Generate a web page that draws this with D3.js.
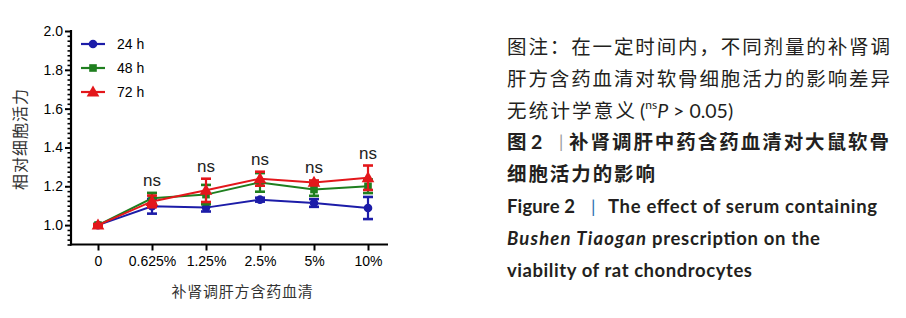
<!DOCTYPE html>
<html><head><meta charset="utf-8">
<script src="https://cdn.jsdelivr.net/npm/d3@7"></script>
<style>html,body{margin:0;padding:0;background:#fff;}svg{display:block;}</style>
</head><body>
<svg id="c" width="906" height="318"></svg>
<script>
const categories = ["0","0.625%","1.25%","2.5%","5%","10%"];
const seriesNames = ["24 h","48 h","72 h"];
const mean24 = [1.00,1.097,1.090,1.131,1.114,1.088];
const sd24   = [0.005,0.038,0.020,0.010,0.020,0.057];
const mean48 = [1.00,1.138,1.157,1.220,1.183,1.200];
const sd48   = [0.005,0.028,0.050,0.048,0.032,0.035];
const mean72 = [1.00,1.122,1.179,1.239,1.220,1.244];
const sd72   = [0.005,0.030,0.060,0.036,0.010,0.063];
const nsLabels = ["","ns","ns","ns","ns","ns"];
const yTicks = [1.0,1.2,1.4,1.6,1.8,2.0];

const colors = ["#1c1ca8","#1f7f1f","#e3171b"];
const shapes = [d3.symbolCircle,d3.symbolSquare,d3.symbolTriangle];
const series = [
  {name:seriesNames[0],mean:mean24,sd:sd24},
  {name:seriesNames[1],mean:mean48,sd:sd48},
  {name:seriesNames[2],mean:mean72,sd:sd72}
];

const svg = d3.select("#c");
const x = d3.scalePoint().domain(categories).range([98,368]);
const y = d3.scaleLinear().domain([0.9,2.0]).range([244.5,31]);
const F = "'Liberation Sans', Arial, sans-serif";

// axes
const yAxis = svg.append("g").attr("transform","translate(71,0)")
  .call(d3.axisLeft(y).tickValues(yTicks).tickFormat(d3.format(".1f")).tickSize(6).tickSizeOuter(0));
yAxis.select(".domain").remove();
yAxis.selectAll("text").attr("font-family",F).attr("font-size",14).attr("fill","#000").attr("x",-8);
yAxis.selectAll("line").attr("stroke","#000").attr("stroke-width",2);
const minor = d3.range(0.9,2.0001,0.025).filter(v=>Math.abs(Math.round(v*5)-v*5)>1e-6);
const yMinor = svg.append("g").attr("transform","translate(71,0)")
  .call(d3.axisLeft(y).tickValues(minor).tickFormat("").tickSize(3.5).tickSizeOuter(0));
yMinor.select(".domain").remove();
yMinor.selectAll("line").attr("stroke","#000").attr("stroke-width",1.6);
svg.append("line").attr("x1",71).attr("x2",71).attr("y1",y(2.0)-1).attr("y2",245.5).attr("stroke","#000").attr("stroke-width",2.2);

const xAxis = svg.append("g").attr("transform","translate(0,244.5)")
  .call(d3.axisBottom(x).tickSize(6).tickSizeOuter(0));
xAxis.select(".domain").remove();
xAxis.selectAll("line").attr("stroke","#000").attr("stroke-width",2);
xAxis.selectAll("text").attr("font-family",F).attr("font-size",14).attr("fill","#000").attr("y",12);
svg.append("line").attr("x1",70).attr("x2",388).attr("y1",244.5).attr("y2",244.5).attr("stroke","#000").attr("stroke-width",2.2);

// titles
svg.append("text").attr("transform","translate(19,139) rotate(-90)").attr("text-anchor","middle")
  .attr("dominant-baseline","central").attr("font-family","'Noto Sans CJK SC', sans-serif").attr("font-size",16)
  .attr("letter-spacing",1).attr("fill","#333").text("相对细胞活力");
svg.append("text").attr("x",242.5).attr("y",290).attr("text-anchor","middle")
  .attr("dominant-baseline","central").attr("font-family","'Noto Sans CJK SC', sans-serif").attr("font-size",15)
  .attr("letter-spacing",0.8).attr("fill","#333").text("补肾调肝方含药血清");

// series
const line = d3.line().x((d,i)=>x(categories[i])).y(d=>y(d));
series.forEach((s,k)=>{
  const g = svg.append("g");
  g.append("path").datum(s.mean).attr("d",line).attr("fill","none").attr("stroke",colors[k]).attr("stroke-width",2);
  s.mean.forEach((m,i)=>{
    const cx = x(categories[i]);
    const y1 = y(m+s.sd[i]), y2 = y(m-s.sd[i]);
    g.append("line").attr("x1",cx).attr("x2",cx).attr("y1",y1).attr("y2",y2).attr("stroke",colors[k]).attr("stroke-width",2.2);
    [y1,y2].forEach(yy=>g.append("line").attr("x1",cx-5).attr("x2",cx+5).attr("y1",yy).attr("y2",yy).attr("stroke",colors[k]).attr("stroke-width",2.6));
    g.append("path").attr("d",d3.symbol().type(shapes[k]).size(k===2?70:58)())
      .attr("transform",`translate(${cx},${y(m)+(k===2?0.8:0)})`).attr("fill",colors[k]);
  });
});

// ns labels
categories.forEach((c,i)=>{
  if(!nsLabels[i]) return;
  const top = d3.max(series,s=>s.mean[i]+s.sd[i]);
  svg.append("text").attr("x",x(c)).attr("y",y(top)-7).attr("text-anchor","middle")
    .attr("font-family",F).attr("font-size",17).attr("fill","#222").text(nsLabels[i]);
});

// legend
series.forEach((s,k)=>{
  const ly = 44 + k*24;
  svg.append("line").attr("x1",81).attr("x2",105).attr("y1",ly).attr("y2",ly).attr("stroke",colors[k]).attr("stroke-width",2.2);
  svg.append("path").attr("d",d3.symbol().type(shapes[k]).size(k===2?70:58)()).attr("transform",`translate(93,${ly+(k===2?0.8:0)})`).attr("fill",colors[k]);
  svg.append("text").attr("x",117).attr("y",ly).attr("dominant-baseline","central")
    .attr("font-family",F).attr("font-size",14).attr("fill","#000").text(s.name);
});

// caption
const CJK = "Lato, 'Noto Sans CJK SC', sans-serif";
function t(xp,yp,str,len,opt={}){
  const e = svg.append("text").attr("x",xp).attr("y",yp).attr("dominant-baseline","central")
    .attr("font-family",opt.family||CJK).attr("font-size",opt.size||19.5)
    .attr("font-weight",opt.weight||"normal").attr("font-style",opt.style||"normal")
    .attr("fill",opt.fill||"#231f20").text(str);
  if(len){e.attr("textLength",len).attr("lengthAdjust","spacing");}
  return e;
}
t(507,46.7,"图注：在一定时间内，不同剂量的补肾调",383);
t(507,78.3,"肝方含药血清对软骨细胞活力的影响差异",383);
t(507,110,"无统计学意义",128);
const l3 = svg.append("text").attr("x",640).attr("y",110).attr("dominant-baseline","central")
  .attr("font-family","Lato, sans-serif").attr("font-size",19.5).attr("fill","#231f20");
l3.append("tspan").text("(");
l3.append("tspan").attr("font-size",12).attr("dy",-6).text("ns");
l3.append("tspan").attr("font-style","italic").attr("dy",6).text("P");
l3.append("tspan").text(" > 0.05)");
t(507,141.7,"图",19,{weight:"bold"});
t(531,141.7,"2",12,{weight:"bold"});
t(559,141.7,"|",4,{weight:"normal",fill:"#999",size:17});
t(569,141.7,"补肾调肝中药含药血清对大鼠软骨",320,{weight:"bold"});
t(507,173.3,"细胞活力的影响",148,{weight:"bold"});
t(507,206,"Figure 2",68,{weight:"bold",size:18.5});
t(591,206,"|",3,{fill:"#2b6cb0",size:18});
t(608,206,"The effect of serum containing",269,{weight:"bold",size:18.5});
t(507,238.3,"Bushen Tiaogan",139,{weight:"bold",style:"italic",size:18.5});
t(652,238.3,"prescription on the",168,{weight:"bold",size:18.5});
t(507,270,"viability of rat chondrocytes",245,{weight:"bold",size:18.5});
</script>
</body></html>
